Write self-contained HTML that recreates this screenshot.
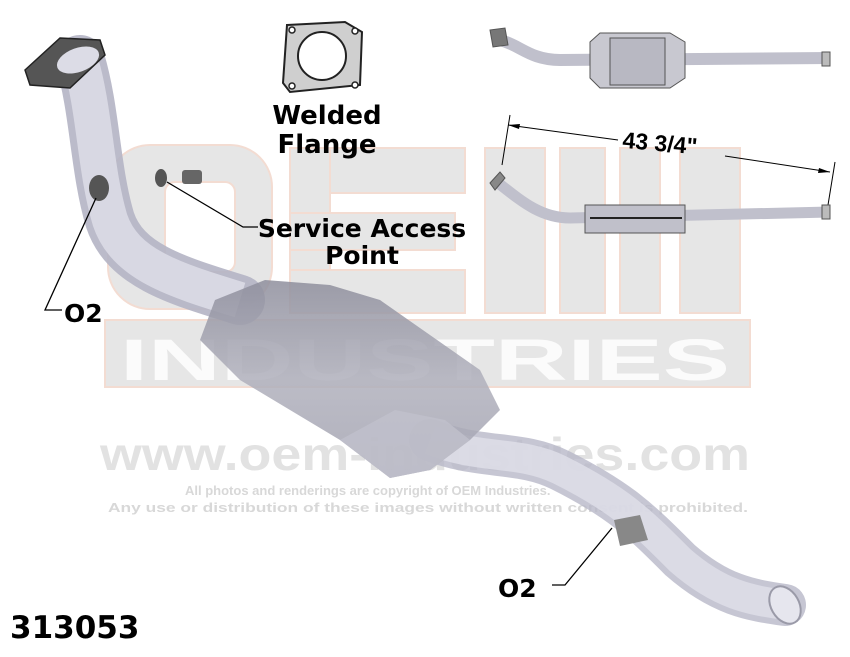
<!DOCTYPE html>
<html><head><meta charset="utf-8"><style>
html,body{margin:0;padding:0;background:#fff;}
svg{display:block;font-family:"Liberation Sans",sans-serif;}
</style></head><body>
<svg width="850" height="657" viewBox="0 0 850 657" xmlns="http://www.w3.org/2000/svg">
<defs>
<linearGradient id="cg" x1="0" y1="0" x2="0" y2="1"><stop offset="0" stop-color="#8e8e9c"/><stop offset="0.5" stop-color="#b0b0bc"/><stop offset="1" stop-color="#a2a2b0"/></linearGradient>
</defs>
<!-- watermark -->
<g fill="#e6e6e6" stroke="#f3dcd2" stroke-width="2">
<path d="M190 145 h40 a42 42 0 0 1 42 42 v80 a42 42 0 0 1 -42 42 h-80 a42 42 0 0 1 -42 -42 v-80 a42 42 0 0 1 42 -42 z M165 192 v70 a10 10 0 0 0 10 10 h50 a10 10 0 0 0 10 -10 v-70 a10 10 0 0 0 -10 -10 h-50 a10 10 0 0 0 -10 10z" fill-rule="evenodd"/>
<rect x="290" y="148" width="175" height="45"/>
<rect x="290" y="148" width="40" height="165"/>
<rect x="290" y="213" width="165" height="37"/>
<rect x="290" y="270" width="175" height="43"/>
<rect x="485" y="148" width="60" height="165"/>
<rect x="560" y="148" width="45" height="165"/>
<rect x="620" y="148" width="40" height="165"/>
<rect x="680" y="148" width="60" height="165"/>
<rect x="105" y="320" width="645" height="67"/>
</g>
<text x="120" y="380" font-size="58" font-weight="bold" textLength="610" lengthAdjust="spacingAndGlyphs" fill="#fbfbfb">INDUSTRIES</text>
<text x="100" y="470" font-size="46" font-weight="bold" fill="#e2e2e2" textLength="650" lengthAdjust="spacingAndGlyphs">www.oem-industries.com</text>
<text x="185" y="495" font-size="13" font-weight="bold" fill="#d8d8d8">All photos and renderings are copyright of OEM Industries.</text>
<text x="108" y="512" font-size="13" font-weight="bold" fill="#d8d8d8" textLength="640" lengthAdjust="spacingAndGlyphs">Any use or distribution of these images without written consent is prohibited.</text>

<!-- main pipe -->
<path d="M80 60 C95 110 95 170 110 220 C125 265 175 280 240 300" fill="none" stroke="#b4b4c4" stroke-width="50" stroke-linecap="round" opacity="0.9"/>
<path d="M80 60 C95 110 95 170 110 220 C125 265 175 280 240 300" fill="none" stroke="#dcdce6" stroke-width="36" opacity="0.9"/>
<path d="M430 440 C480 460 520 450 560 470 C620 500 640 520 680 560 C720 595 750 600 785 605" fill="none" stroke="#b8b8c8" stroke-width="42" stroke-linecap="round" opacity="0.8"/>
<path d="M430 440 C480 460 520 450 560 470 C620 500 640 520 680 560 C720 595 750 600 785 605" fill="none" stroke="#e0e0ea" stroke-width="30" opacity="0.8"/>
<ellipse cx="785" cy="605" rx="14" ry="20" fill="#e6e6ee" stroke="#9a9aa8" stroke-width="2" transform="rotate(-30 785 605)"/>
<!-- cat body -->
<path d="M215 300 L265 280 L330 285 L380 300 L480 370 L500 410 L470 440 L430 470 L390 478 L340 440 L240 380 L200 340 Z" fill="url(#cg)" opacity="0.85"/>
<path d="M340 440 L395 410 L445 420 L470 440 L430 470 L390 478 Z" fill="#c0c0cc" opacity="0.8"/>
<!-- flange top -->
<path d="M25 70 L60 38 L100 40 L105 55 L70 88 L30 85 Z" fill="#555" stroke="#222" stroke-width="1.5"/>
<ellipse cx="78" cy="60" rx="22" ry="12" fill="#dcdce6" transform="rotate(-20 78 60)"/>
<!-- O2 bosses -->
<ellipse cx="99" cy="188" rx="10" ry="13" fill="#555"/>
<ellipse cx="161" cy="178" rx="6" ry="9" fill="#555"/>
<rect x="182" y="170" width="20" height="14" rx="3" fill="#666"/>
<path d="M614 520 L640 515 L648 540 L620 546 Z" fill="#888"/>
<!-- leaders -->
<g stroke="#000" stroke-width="1.3" fill="none">
<path d="M96 198 L45 310 L62 310"/>
<path d="M167 182 L243 227 L258 227"/>
<path d="M612 528 L565 585 L552 585"/>
</g>
<!-- gasket -->
<path d="M287 25 L345 22 L362 32 L360 85 L290 92 L283 83 Z" fill="#cfcfcf" stroke="#222" stroke-width="2"/>
<circle cx="322" cy="56" r="24" fill="#fff" stroke="#222" stroke-width="2"/>
<g fill="#fff" stroke="#222" stroke-width="1.5"><circle cx="292" cy="30" r="3"/><circle cx="355" cy="31" r="3"/><circle cx="292" cy="86" r="3"/><circle cx="355" cy="85" r="3"/></g>
<text x="327" y="124" font-size="26" font-weight="bold" text-anchor="middle" font-family="DejaVu Sans, sans-serif">Welded</text>
<text x="327" y="153" font-size="26" font-weight="bold" text-anchor="middle" font-family="DejaVu Sans, sans-serif">Flange</text>
<text x="362" y="237" font-size="25" font-weight="bold" text-anchor="middle" font-family="DejaVu Sans, sans-serif">Service Access</text>
<text x="362" y="264" font-size="25" font-weight="bold" text-anchor="middle" font-family="DejaVu Sans, sans-serif">Point</text>
<text x="64" y="322" font-size="25" font-weight="bold" font-family="DejaVu Sans, sans-serif">O2</text>
<text x="498" y="597" font-size="25" font-weight="bold" font-family="DejaVu Sans, sans-serif">O2</text>
<text x="10" y="638" font-size="31" font-weight="bold" font-family="DejaVu Sans, sans-serif">313053</text>
<!-- top right diagram 1 -->
<g stroke="#555" stroke-width="1">
<path d="M500 40 C520 45 530 60 560 60 L830 58" fill="none" stroke="#c0c0cc" stroke-width="12"/>
<path d="M490 30 L505 28 L508 45 L493 47 Z" fill="#777"/>
<path d="M590 42 L600 33 L670 33 L685 42 L685 78 L670 88 L600 88 L590 78 Z" fill="#c8c8d0"/>
<rect x="610" y="38" width="55" height="47" fill="#b8b8c2"/>
<rect x="822" y="52" width="8" height="14" fill="#bbb"/>
</g>
<!-- dimension -->
<g stroke="#000" stroke-width="1">
<line x1="508" y1="125" x2="618" y2="140"/><line x1="725" y1="156" x2="830" y2="172"/>
<line x1="510" y1="115" x2="502" y2="165"/><line x1="835" y1="162" x2="828" y2="205"/>
</g>
<polygon points="508,125 520,124 519,129" fill="#000"/><polygon points="830,172 818,173 819,168" fill="#000"/>
<text x="622" y="152" font-size="23" font-weight="bold" transform="rotate(5 670 150)">43 3/4"</text>
<!-- diagram 2 -->
<g stroke="#555" stroke-width="1">
<path d="M497 182 C520 200 540 218 570 218 L830 212" fill="none" stroke="#c0c0cc" stroke-width="11"/>
<path d="M490 183 L500 172 L505 178 L495 190 Z" fill="#888"/>
<rect x="585" y="205" width="100" height="28" fill="#c0c0ca"/>
<line x1="590" y1="218" x2="682" y2="218" stroke="#222" stroke-width="2"/>
<rect x="822" y="205" width="8" height="14" fill="#bbb"/>
</g>
</svg>
</body></html>
